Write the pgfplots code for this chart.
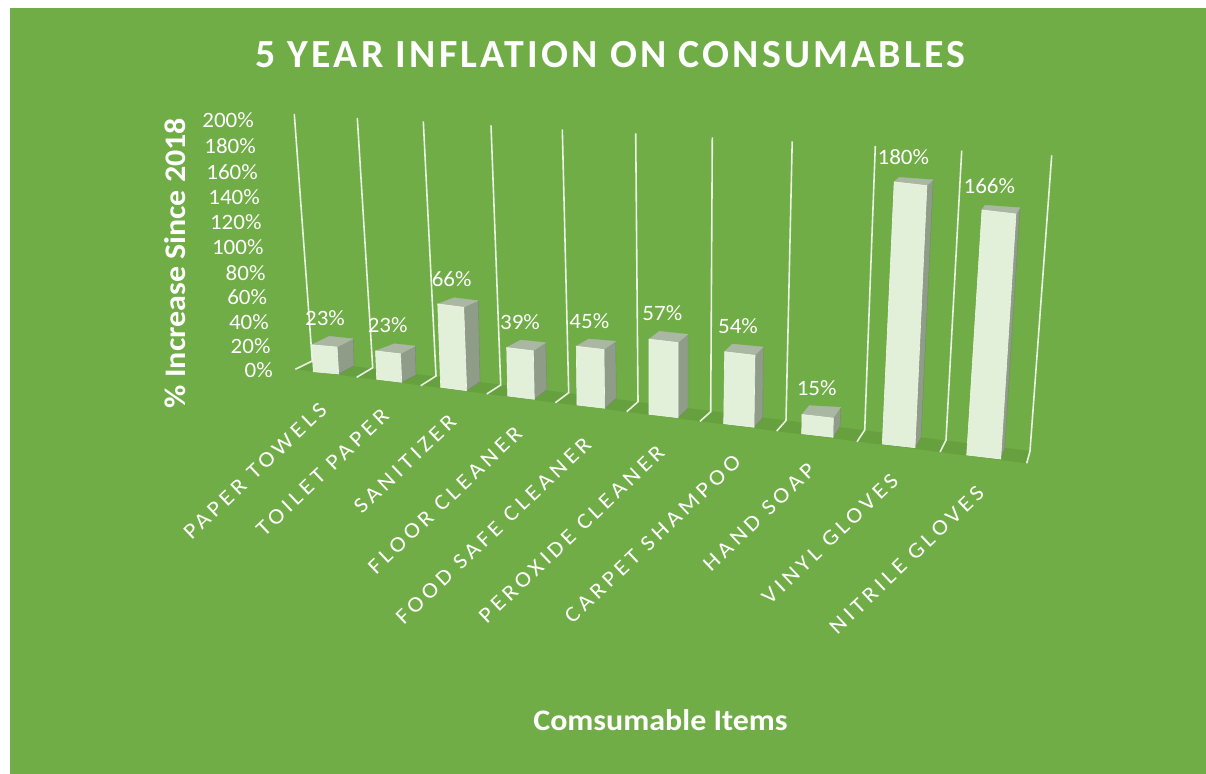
\documentclass[border=0pt]{standalone}
\usepackage{pgfplots}
\pgfplotsset{compat=1.18}
\usepackage{fontspec}
\setmainfont[FakeStretch=1.05]{Carlito}
\newfontfamily\titlefont[LetterSpace=8]{Carlito}
\newfontfamily\axisfont[FakeStretch=1.07]{Carlito}
\newfontfamily\catfont[LetterSpace=18,FakeStretch=1.1]{Carlito}
\definecolor{panel}{HTML}{70AD47}
\definecolor{floorgreen}{HTML}{66A03F}
\definecolor{barfront}{HTML}{E2EFD9}
\definecolor{barside}{HTML}{8F9C87}
\definecolor{bartop}{HTML}{AAB7A2}
\definecolor{baredge}{HTML}{F0F6EA}

% Perspective scale of the current column: horizontal lean and height, in
% pixels per percentage point, for its front and its rear edges.
\newcommand{\perspective}[4]{%
  \def\sxF{#1}\def\syF{#2}\def\sxB{#3}\def\syB{#4}}

% One column: value, then floor corners front-left, front-right, rear-right, rear-left.
\newcommand{\column}[9]{%
  \pgfmathsetmacro{\flx}{#2+#1*\sxF}\pgfmathsetmacro{\fly}{#3-#1*\syF}%
  \pgfmathsetmacro{\frx}{#4+#1*\sxF}\pgfmathsetmacro{\fry}{#5-#1*\syF}%
  \pgfmathsetmacro{\brx}{#6+#1*\sxB}\pgfmathsetmacro{\bry}{#7-#1*\syB}%
  \pgfmathsetmacro{\blx}{#8+#1*\sxB}\pgfmathsetmacro{\bly}{#9-#1*\syB}%
  \addplot[fill=barside,draw=barside!85!black,line width=0.4pt] coordinates
    {(#4,#5) (\frx,\fry) (\brx,\bry) (#6,#7)} -- cycle;
  \addplot[fill=bartop,draw=bartop,line width=0.4pt] coordinates
    {(\flx,\fly) (\frx,\fry) (\brx,\bry) (\blx,\bly)} -- cycle;
  \addplot[fill=barfront,draw=baredge,line width=0.6pt] coordinates
    {(#2,#3) (\flx,\fly) (\frx,\fry) (#4,#5)} -- cycle;
}

\newcommand{\wall}[6]{%
  \addplot[white,opacity=0.85,line width=1.6pt] coordinates {(#1,#2) (#3,#4) (#5,#6)};}
\newcommand{\vallabel}[3]{\node[white,font=\fontsize{22}{24}\selectfont] at (axis cs:#1,#2) {#3\%};}
\newcommand{\ticklab}[3]{\node[white,anchor=east,inner sep=0pt,font=\fontsize{22}{24}\selectfont] at (axis cs:#1,#2) {#3\%};}
\newcommand{\catlab}[3]{\node[white,rotate=43.5,inner sep=0pt,font=\catfont\fontsize{22}{24}\selectfont] at (axis cs:#1,#2) {#3};}

\begin{document}
\begin{tikzpicture}
\begin{axis}[
  scale only axis, width=1206bp, height=774bp,
  xmin=0, xmax=1206, ymin=0, ymax=774, y dir=reverse,
  hide axis, clip=false,
]
% page and chart panel
\addplot[fill=white,draw=none] coordinates {(0,0) (1206,0) (1206,774) (0,774)} -- cycle;
\addplot[fill=panel,draw=none] coordinates {(10,8) (1206,8) (1206,774) (10,774)} -- cycle;
% chart floor
\addplot[fill=floorgreen,draw=none] coordinates
  {(295.3,369.3) (312.3,361) (1030,451) (1026.7,463.3)} -- cycle;
% wall gridlines with their floor feet
\wall{295.3}{369.3}{312.3}{361}{294.3}{114}
\wall{356.7}{377.3}{372.7}{367.7}{357.3}{118}
\wall{420.7}{385.7}{436}{376}{423.3}{121.3}
\wall{486.7}{394}{500.7}{385}{491}{125.3}
\wall{555.3}{402.7}{568.7}{392.7}{562.3}{129.3}
\wall{626.7}{411.7}{638}{401.7}{635.7}{133.3}
\wall{700}{421.3}{710.7}{411.7}{712.3}{137.3}
\wall{776.7}{431}{786}{420.5}{792.2}{141.3}
\wall{857}{441.7}{864.7}{430}{875.3}{146}
\wall{940}{452}{946}{440}{961.7}{150.7}
\wall{1026.7}{463.3}{1030}{451}{1051.7}{155.3}
% columns
\perspective{-0.07}{1.17}{-0.03}{1.17}
\column{23}{313.3}{371.7}{338.7}{374}{354}{365.7}{330}{363.2}
\perspective{-0.05}{1.235}{-0.03}{1.26}
\column{23}{376.7}{379.3}{401.7}{382.3}{416}{375}{395}{372.7}
\perspective{-0.045}{1.263}{-0.026}{1.227}
\column{66}{440.7}{387.3}{466.7}{390.7}{480}{381.7}{455.7}{378.7}
\perspective{-0.025}{1.242}{-0.033}{1.195}
\column{39}{507.7}{396}{534.3}{399.3}{547}{389.3}{522}{386.6}
\perspective{-0.016}{1.306}{-0.013}{1.267}
\column{45}{577}{405}{604.7}{408.3}{616.3}{398.3}{589.3}{396}
\perspective{0}{1.318}{0}{1.298}
\column{57}{649}{414.3}{678}{417.7}{688}{408.3}{659.3}{405.3}
\perspective{0.018}{1.333}{0.011}{1.309}
\column{54}{723.7}{423.7}{754}{427.3}{762.7}{417.7}{731.7}{414.7}
\perspective{0.02}{1.28}{0.047}{1.293}
\column{15}{801.7}{433.7}{833}{437.3}{840}{426.7}{808.6}{425}
\perspective{0.066}{1.456}{0.068}{1.433}
\column{180}{882.3}{444}{915}{447.7}{921}{437.7}{887}{435.3}
\perspective{0.092}{1.476}{0.092}{1.449}
\column{166}{966.7}{455}{1000.7}{459}{1004.7}{448.3}{969.7}{445.8}
% value labels
\vallabel{325}{318}{23}
\vallabel{387.7}{325}{23}
\vallabel{451.7}{279}{66}
\vallabel{520}{321.7}{39}
\vallabel{589.3}{321}{45}
\vallabel{662.3}{312.7}{57}
\vallabel{738}{325.7}{54}
\vallabel{816.7}{387.7}{15}
\vallabel{903.3}{157.3}{180}
\vallabel{989.3}{185.7}{166}
% vertical scale
\ticklab{254}{120}{200}
\ticklab{256}{146}{180}
\ticklab{258}{172}{160}
\ticklab{260}{197}{140}
\ticklab{261.7}{222}{120}
\ticklab{263.7}{247}{100}
\ticklab{265.7}{273}{80}
\ticklab{267.3}{297}{60}
\ticklab{269}{322}{40}
\ticklab{270.7}{346}{20}
\ticklab{273}{370}{0}
% category names
\catlab{255}{471}{PAPER TOWELS}
\catlab{322.5}{472.5}{TOILET PAPER}
\catlab{405}{464}{SANITIZER}
\catlab{445}{500}{FLOOR CLEANER}
\catlab{493.5}{530.5}{FOOD SAFE CLEANER}
\catlab{571.5}{534}{PEROXIDE CLEANER}
\catlab{652.5}{539}{CARPET SHAMPOO}
\catlab{759}{517}{HAND SOAP}
\catlab{830}{539}{VINYL GLOVES}
\catlab{906.5}{560}{NITRILE GLOVES}
% titles
\node[white,font=\titlefont\bfseries\fontsize{40}{43}\selectfont] at (axis cs:610.5,55) {5 YEAR INFLATION ON CONSUMABLES};
\node[white,rotate=90,font=\axisfont\bfseries\fontsize{30}{33}\selectfont] at (axis cs:175,263) {\% Increase Since 2018};
\node[white,font=\axisfont\bfseries\fontsize{30}{33}\selectfont] at (axis cs:660.5,720) {Comsumable Items};
\end{axis}
\end{tikzpicture}
\end{document}
